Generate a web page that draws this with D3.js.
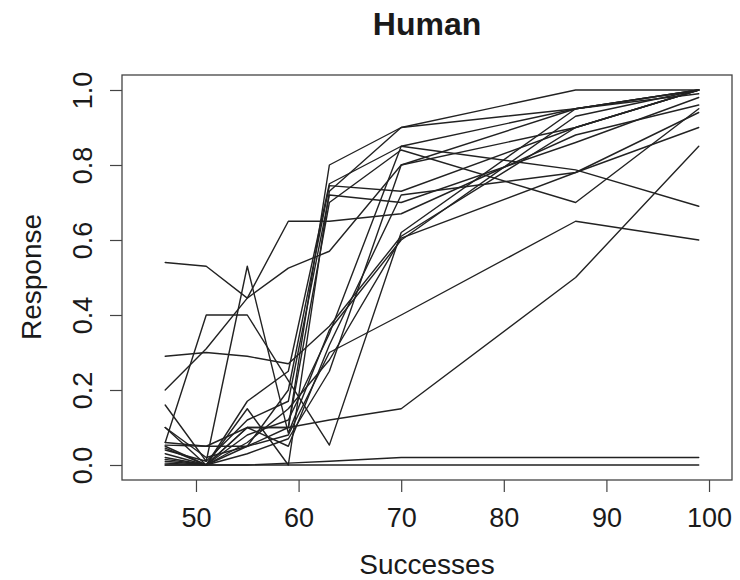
<!DOCTYPE html>
<html>
<head>
<meta charset="utf-8">
<script src="https://cdnjs.cloudflare.com/ajax/libs/d3/7.8.5/d3.min.js"></script>
<style>
    body { margin: 0; background: #fff; }
    text { font-family: "Liberation Sans", Arial, Helvetica, sans-serif; fill: #1a1a1a; }
    .subject { fill: none; stroke: #222; stroke-width: 1.4; stroke-linejoin: round; stroke-linecap: round; }
    .axis path, .axis line { stroke: #444; stroke-width: 1.2; }
</style>
</head>
<body>
<div id="chart"></div>
<script>
// successes shown to each subject (x) and the response (y)
var successes = [47, 51, 55, 59, 63, 70, 87, 99];

var s01 = [0.05, 0.00, 0.10, 0.10, 0.80, 0.90, 1.00, 1.00];
var s02 = [0.54, 0.53, 0.445, 0.525, 0.57, 0.80, 0.95, 1.00];
var s03 = [0.20, 0.31, 0.445, 0.65, 0.65, 0.67, 0.88, 0.96];
var s04 = [0.29, 0.30, 0.29, 0.27, 0.37, 0.61, 0.90, 1.00];
var s05 = [0.06, 0.40, 0.40, 0.225, 0.053, 0.62, 0.95, 0.99];
var s06 = [0.04, 0.01, 0.53, 0.085, 0.36, 0.60, 0.93, 1.00];
var s07 = [0.10, 0.00, 0.10, 0.10, 0.12, 0.15, 0.50, 0.85];
var s08 = [0.10, 0.02, 0.05, 0.08, 0.30, 0.40, 0.65, 0.60];
var s09 = [0.00, 0.00, 0.00, 0.00, 0.00, 0.00, 0.00, 0.00];
var s10 = [0.015, 0.00, 0.00, 0.005, 0.01, 0.02, 0.02, 0.02];
var s11 = [0.16, 0.01, 0.12, 0.17, 0.72, 0.70, 0.86, 0.98];
var s12 = [0.045, 0.00, 0.05, 0.20, 0.745, 0.73, 0.90, 1.00];
var s13 = [0.02, 0.00, 0.17, 0.25, 0.75, 0.85, 0.787, 0.69];
var s14 = [0.053, 0.05, 0.05, 0.10, 0.70, 0.84, 0.70, 0.95];
var s15 = [0.03, 0.00, 0.15, 0.00, 0.73, 0.90, 0.95, 1.00];
var s16 = [0.005, 0.00, 0.08, 0.12, 0.35, 0.85, 0.95, 1.00];
var s17 = [0.01, 0.00, 0.06, 0.15, 0.28, 0.605, 0.78, 0.94];
var s18 = [0.00, 0.00, 0.03, 0.07, 0.25, 0.80, 0.90, 1.00];
var s19 = [0.06, 0.05, 0.10, 0.05, 0.32, 0.72, 0.78, 0.90];

var subjects = [s01, s02, s03, s04, s05, s06, s07, s08, s09, s10,
                s11, s12, s13, s14, s15, s16, s17, s18, s19];

var xTicks = [50, 60, 70, 80, 90, 100];
var yTicks = [0, 0.2, 0.4, 0.6, 0.8, 1.0];

var drawPlot = function(){
    var svg = d3.select("#chart").append("svg").attr("width", 740).attr("height", 580);

    var x = d3.scaleLinear().domain([42.79, 102.24]).range([122, 732]);
    var y = d3.scaleLinear().domain([-0.04, 1.04]).range([480, 75]);

    var line = d3.line()
        .x(function(d){ return x(d[0]); })
        .y(function(d){ return y(d[1]); });

    svg.append("g").selectAll("path")
        .data(subjects)
        .enter().append("path")
        .attr("class", "subject")
        .attr("d", function(s){
            return line(successes.map(function(v, i){ return [v, s[i]]; }));
        });

    // bottom axis, R style: ticks outside the box
    var xAxis = svg.append("g").attr("class", "axis")
        .attr("transform", "translate(0," + y.range()[0] + ")")
        .call(d3.axisBottom(x).tickValues(xTicks).tickSize(12).tickSizeOuter(0).tickPadding(16));
    xAxis.selectAll("text").style("font-size", "27px");
    xAxis.select(".domain").remove();

    var yAxis = svg.append("g").attr("class", "axis")
        .attr("transform", "translate(" + x.range()[0] + ",0)")
        .call(d3.axisLeft(y).tickValues(yTicks).tickSize(12).tickSizeOuter(0).tickFormat(d3.format(".1f")));
    yAxis.select(".domain").remove();
    yAxis.selectAll("text")
        .attr("transform", "rotate(-90)")
        .attr("x", 0).attr("y", -30).attr("dy", 0)
        .style("text-anchor", "middle")
        .style("font-size", "27px");

    // plot box
    svg.append("rect")
        .attr("x", x.range()[0]).attr("y", y.range()[1])
        .attr("width", x.range()[1] - x.range()[0])
        .attr("height", y.range()[0] - y.range()[1])
        .attr("fill", "none").attr("stroke", "#444").attr("stroke-width", 1.3);

    svg.append("text").attr("x", 427).attr("y", 35)
        .attr("text-anchor", "middle")
        .style("font-size", "32px").style("font-weight", "bold")
        .text("Human");

    svg.append("text").attr("x", 427).attr("y", 574)
        .attr("text-anchor", "middle")
        .style("font-size", "28px")
        .text("Successes");

    svg.append("text")
        .attr("transform", "translate(41,277) rotate(-90)")
        .attr("text-anchor", "middle")
        .style("font-size", "28px")
        .text("Response");
};

drawPlot();
</script>
</body>
</html>
